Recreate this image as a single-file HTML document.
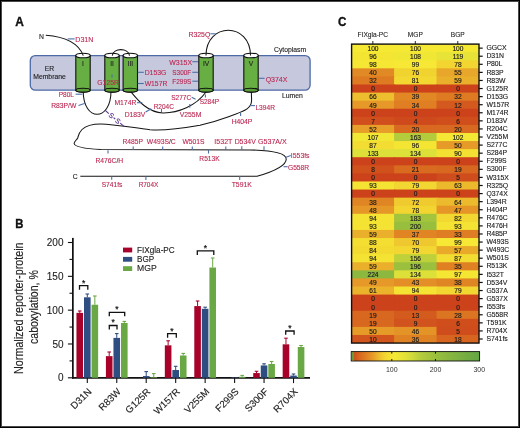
<!DOCTYPE html>
<html><head><meta charset="utf-8"><style>
html,body{margin:0;padding:0;background:#fff;}
body{width:520px;height:428px;overflow:hidden;position:relative;}
svg{position:absolute;left:0;top:0;font-family:"Liberation Sans", sans-serif;will-change:transform;}

</style></head><body>
<svg width="520" height="428" viewBox="0 0 520 428">
<rect width="520" height="428" fill="#fff"/>
<g id="A">
<text x="15.3" y="26.2" font-size="12.6" font-weight="bold" fill="#111" stroke="#111" stroke-width="0.35" textLength="8.6" lengthAdjust="spacingAndGlyphs">A</text>
<rect x="30.3" y="55.6" width="279.8" height="34.6" rx="5" ry="5" fill="#c6c8dd" stroke="#4d6aa6" stroke-width="1.3"/>
<text x="49.5" y="71" font-size="6.8" fill="#222" stroke="#222" stroke-width="0.12" text-anchor="middle">ER</text>
<text x="49.5" y="79" font-size="6.8" fill="#222" stroke="#222" stroke-width="0.12" text-anchor="middle">Membrane</text>
<text x="274" y="52.3" font-size="6.8" fill="#222" stroke="#222" stroke-width="0.12">Cytoplasm</text>
<text x="282" y="97.5" font-size="6.8" fill="#222" stroke="#222" stroke-width="0.12">Lumen</text>
<text x="38.9" y="38.9" font-size="6.8" fill="#222" stroke="#222" stroke-width="0.12">N</text>
<path d="M83.2,91 C83.2,122 111,122 111,91" fill="none" stroke="#151515" stroke-width="1.05"/>
<path d="M130.3,91 C137,99 147,112.6 163,112.9 C178,113.1 196,106 206,92" fill="none" stroke="#151515" stroke-width="1.05"/>
<path d="M251.3,91 L251.6,100 C251.6,110 242,111.5 229.3,116.5 C219,120.3 210,123 200,125.3 C180,128.8 165,131 150,129.8 C135,128.2 115,124 100.8,123.9 C94,123.9 86,125.5 82,129.5 C79.2,132.3 78.6,135 77.8,137.7 C77,139.8 74,141.5 74.1,143.5 C74.6,146.5 84,148.6 100.8,149.6 L250,149.9 C274,150.5 286,153 286.2,159 C286.4,165 275,171 257,176.3 L80.3,176.3" fill="none" stroke="#151515" stroke-width="1.05"/>
<text x="72.8" y="179.2" font-size="6.8" fill="#222" stroke="#222" stroke-width="0.12">C</text>
<path d="M75.8,55.5 L75.8,90.2 A7.2,1.9 0 0 0 90.2,90.2 L90.2,55.5 Z" fill="#67ae43" stroke="#111" stroke-width="1.1"/>
<ellipse cx="83" cy="90.2" rx="7.2" ry="1.9" fill="#5a9f38" stroke="#111" stroke-width="1.1"/>
<ellipse cx="83" cy="55.5" rx="7.2" ry="2.3" fill="#fff" stroke="#111" stroke-width="1.1"/>
<text x="83" y="65.8" font-size="6.6" fill="#222" stroke="#222" stroke-width="0.12" text-anchor="middle">I</text>
<path d="M104.8,55.5 L104.8,90.2 A7.2,1.9 0 0 0 119.2,90.2 L119.2,55.5 Z" fill="#67ae43" stroke="#111" stroke-width="1.1"/>
<ellipse cx="112" cy="90.2" rx="7.2" ry="1.9" fill="#5a9f38" stroke="#111" stroke-width="1.1"/>
<ellipse cx="112" cy="55.5" rx="7.2" ry="2.3" fill="#fff" stroke="#111" stroke-width="1.1"/>
<text x="112" y="65.8" font-size="6.6" fill="#222" stroke="#222" stroke-width="0.12" text-anchor="middle">II</text>
<path d="M123.10000000000001,55.5 L123.10000000000001,90.2 A7.2,1.9 0 0 0 137.5,90.2 L137.5,55.5 Z" fill="#67ae43" stroke="#111" stroke-width="1.1"/>
<ellipse cx="130.3" cy="90.2" rx="7.2" ry="1.9" fill="#5a9f38" stroke="#111" stroke-width="1.1"/>
<ellipse cx="130.3" cy="55.5" rx="7.2" ry="2.3" fill="#fff" stroke="#111" stroke-width="1.1"/>
<text x="130.3" y="65.8" font-size="6.6" fill="#222" stroke="#222" stroke-width="0.12" text-anchor="middle">III</text>
<path d="M198.8,55.5 L198.8,90.2 A7.2,1.9 0 0 0 213.20000000000002,90.2 L213.20000000000002,55.5 Z" fill="#67ae43" stroke="#111" stroke-width="1.1"/>
<ellipse cx="206" cy="90.2" rx="7.2" ry="1.9" fill="#5a9f38" stroke="#111" stroke-width="1.1"/>
<ellipse cx="206" cy="55.5" rx="7.2" ry="2.3" fill="#fff" stroke="#111" stroke-width="1.1"/>
<text x="206" y="65.8" font-size="6.6" fill="#222" stroke="#222" stroke-width="0.12" text-anchor="middle">IV</text>
<path d="M243.8,55.5 L243.8,90.2 A7.2,1.9 0 0 0 258.2,90.2 L258.2,55.5 Z" fill="#67ae43" stroke="#111" stroke-width="1.1"/>
<ellipse cx="251" cy="90.2" rx="7.2" ry="1.9" fill="#5a9f38" stroke="#111" stroke-width="1.1"/>
<ellipse cx="251" cy="55.5" rx="7.2" ry="2.3" fill="#fff" stroke="#111" stroke-width="1.1"/>
<text x="251" y="65.8" font-size="6.6" fill="#222" stroke="#222" stroke-width="0.12" text-anchor="middle">V</text>
<path d="M45.8,35.3 C62,36.5 78,42 83.3,55.6" fill="none" stroke="#151515" stroke-width="1.05"/>
<path d="M112.3,55.6 C113,47.6 128.6,47.6 129.5,55.6" fill="none" stroke="#151515" stroke-width="1.05"/>
<path d="M206,55.6 C206,21.7 250.5,21.7 250.5,55.6" fill="none" stroke="#151515" stroke-width="1.05"/>
<line x1="105.3" y1="110.4" x2="108.8" y2="113.6" stroke="#5b3590" stroke-width="1.1"/>
<line x1="113.6" y1="117.6" x2="115.2" y2="119" stroke="#5b3590" stroke-width="1.1"/>
<line x1="120.2" y1="123.2" x2="124.3" y2="126.6" stroke="#5b3590" stroke-width="1.1"/>
<text x="111.2" y="118" font-size="7" fill="#5b3590" stroke="#5b3590" stroke-width="0.15" text-anchor="middle" transform="rotate(38 111.2 115.7)">S</text>
<text x="117.7" y="123.4" font-size="7" fill="#5b3590" stroke="#5b3590" stroke-width="0.15" text-anchor="middle" transform="rotate(38 117.7 121.1)">S</text>
<line x1="67.7" y1="38.9" x2="74.6" y2="38.9" stroke="#4d6fa8" stroke-width="1.1"/>
<text x="75.35" y="41.8" font-size="6.9" fill="#bb2651" stroke="#bb2651" stroke-width="0.1" textLength="18.00" lengthAdjust="spacingAndGlyphs">D31N</text>
<line x1="75.6" y1="94.2" x2="82.3" y2="94.2" stroke="#4d6fa8" stroke-width="1.1"/>
<text x="58.65" y="97" font-size="6.9" fill="#bb2651" stroke="#bb2651" stroke-width="0.1" textLength="15.30" lengthAdjust="spacingAndGlyphs">P80L</text>
<line x1="78.5" y1="105.4" x2="85.2" y2="103.3" stroke="#4d6fa8" stroke-width="1.1"/>
<text x="51.15" y="108" font-size="6.9" fill="#bb2651" stroke="#bb2651" stroke-width="0.1" textLength="25.20" lengthAdjust="spacingAndGlyphs">R83P/W</text>
<line x1="112" y1="74.6" x2="112" y2="77.7" stroke="#4d6fa8" stroke-width="1.1"/>
<text x="97.35" y="85" font-size="6.9" fill="#bb2651" stroke="#bb2651" stroke-width="0.1" textLength="21.50" lengthAdjust="spacingAndGlyphs">G125R</text>
<line x1="137.7" y1="72.3" x2="143.8" y2="72.3" stroke="#4d6fa8" stroke-width="1.1"/>
<text x="144.65" y="75" font-size="6.9" fill="#bb2651" stroke="#bb2651" stroke-width="0.1" textLength="21.70" lengthAdjust="spacingAndGlyphs">D153G</text>
<line x1="137.7" y1="83.5" x2="143.8" y2="83.5" stroke="#4d6fa8" stroke-width="1.1"/>
<text x="144.65" y="86" font-size="6.9" fill="#bb2651" stroke="#bb2651" stroke-width="0.1" textLength="22.70" lengthAdjust="spacingAndGlyphs">W157R</text>
<line x1="137" y1="102.7" x2="142.3" y2="102.7" stroke="#4d6fa8" stroke-width="1.1"/>
<text x="114.45" y="105.2" font-size="6.9" fill="#bb2651" stroke="#bb2651" stroke-width="0.1" textLength="21.90" lengthAdjust="spacingAndGlyphs">M174R</text>
<line x1="145.6" y1="112" x2="151.3" y2="108.7" stroke="#4d6fa8" stroke-width="1.1"/>
<text x="124.65" y="116.7" font-size="6.9" fill="#bb2651" stroke="#bb2651" stroke-width="0.1" textLength="20.70" lengthAdjust="spacingAndGlyphs">D183V</text>
<line x1="161.5" y1="109" x2="161.5" y2="112" stroke="#4d6fa8" stroke-width="1.1"/>
<text x="153.65" y="108.5" font-size="6.9" fill="#bb2651" stroke="#bb2651" stroke-width="0.1" textLength="20.20" lengthAdjust="spacingAndGlyphs">R204C</text>
<line x1="191.7" y1="97.3" x2="195.6" y2="99.2" stroke="#4d6fa8" stroke-width="1.1"/>
<text x="171.15" y="100.4" font-size="6.9" fill="#bb2651" stroke="#bb2651" stroke-width="0.1" textLength="20.00" lengthAdjust="spacingAndGlyphs">S277C</text>
<line x1="189.8" y1="104" x2="189.8" y2="107.7" stroke="#4d6fa8" stroke-width="1.1"/>
<text x="179.65" y="116.7" font-size="6.9" fill="#bb2651" stroke="#bb2651" stroke-width="0.1" textLength="21.70" lengthAdjust="spacingAndGlyphs">V255M</text>
<line x1="205.4" y1="94.6" x2="205.4" y2="97.5" stroke="#4d6fa8" stroke-width="1.1"/>
<text x="199.65" y="104.2" font-size="6.9" fill="#bb2651" stroke="#bb2651" stroke-width="0.1" textLength="19.50" lengthAdjust="spacingAndGlyphs">S284P</text>
<line x1="192.3" y1="61.7" x2="198" y2="61.7" stroke="#4d6fa8" stroke-width="1.1"/>
<text x="169.25" y="64.6" font-size="6.9" fill="#bb2651" stroke="#bb2651" stroke-width="0.1" textLength="22.80" lengthAdjust="spacingAndGlyphs">W315X</text>
<line x1="192.3" y1="72.3" x2="198" y2="72.3" stroke="#4d6fa8" stroke-width="1.1"/>
<text x="172.35" y="75.4" font-size="6.9" fill="#bb2651" stroke="#bb2651" stroke-width="0.1" textLength="18.80" lengthAdjust="spacingAndGlyphs">S300F</text>
<line x1="192.3" y1="81.2" x2="198" y2="81.2" stroke="#4d6fa8" stroke-width="1.1"/>
<text x="172.35" y="83.8" font-size="6.9" fill="#bb2651" stroke="#bb2651" stroke-width="0.1" textLength="19.00" lengthAdjust="spacingAndGlyphs">F299S</text>
<line x1="210.4" y1="33.8" x2="215.8" y2="33.8" stroke="#4d6fa8" stroke-width="1.1"/>
<text x="188.45" y="37.3" font-size="6.9" fill="#bb2651" stroke="#bb2651" stroke-width="0.1" textLength="21.90" lengthAdjust="spacingAndGlyphs">R325Q</text>
<line x1="259" y1="78.3" x2="264.6" y2="78.3" stroke="#4d6fa8" stroke-width="1.1"/>
<text x="265.65" y="81.5" font-size="6.9" fill="#bb2651" stroke="#bb2651" stroke-width="0.1" textLength="21.70" lengthAdjust="spacingAndGlyphs">Q374X</text>
<line x1="250" y1="105.6" x2="255" y2="105.6" stroke="#4d6fa8" stroke-width="1.1"/>
<text x="255.45" y="109.6" font-size="6.9" fill="#bb2651" stroke="#bb2651" stroke-width="0.1" textLength="19.50" lengthAdjust="spacingAndGlyphs">L394R</text>
<line x1="240.6" y1="112.9" x2="240.6" y2="116" stroke="#4d6fa8" stroke-width="1.1"/>
<text x="231.65" y="124.4" font-size="6.9" fill="#bb2651" stroke="#bb2651" stroke-width="0.1" textLength="20.70" lengthAdjust="spacingAndGlyphs">H404P</text>
<line x1="133.2" y1="146.5" x2="133.2" y2="150" stroke="#4d6fa8" stroke-width="1.1"/>
<text x="122.45" y="144.4" font-size="6.9" fill="#bb2651" stroke="#bb2651" stroke-width="0.1" textLength="20.50" lengthAdjust="spacingAndGlyphs">R485P</text>
<line x1="162.7" y1="146.5" x2="162.7" y2="150" stroke="#4d6fa8" stroke-width="1.1"/>
<text x="146.85" y="144.4" font-size="6.9" fill="#bb2651" stroke="#bb2651" stroke-width="0.1" textLength="28.90" lengthAdjust="spacingAndGlyphs">W493S<tspan fill="#333" stroke="#333">/</tspan>C</text>
<line x1="192.3" y1="146.5" x2="192.3" y2="150" stroke="#4d6fa8" stroke-width="1.1"/>
<text x="182.45" y="144.4" font-size="6.9" fill="#bb2651" stroke="#bb2651" stroke-width="0.1" textLength="22.20" lengthAdjust="spacingAndGlyphs">W501S</text>
<line x1="225.8" y1="146.5" x2="225.8" y2="150" stroke="#4d6fa8" stroke-width="1.1"/>
<text x="214.35" y="144.4" font-size="6.9" fill="#bb2651" stroke="#bb2651" stroke-width="0.1" textLength="18.00" lengthAdjust="spacingAndGlyphs">I532T</text>
<line x1="241.8" y1="146.3" x2="241.8" y2="150" stroke="#4d6fa8" stroke-width="1.1"/>
<text x="234.65" y="144.4" font-size="6.9" fill="#bb2651" stroke="#bb2651" stroke-width="0.1" textLength="21.10" lengthAdjust="spacingAndGlyphs">D534V</text>
<line x1="264" y1="146.3" x2="264" y2="150" stroke="#4d6fa8" stroke-width="1.1"/>
<text x="258.05" y="144.4" font-size="6.9" fill="#bb2651" stroke="#bb2651" stroke-width="0.1" textLength="28.70" lengthAdjust="spacingAndGlyphs">G537A/X</text>
<line x1="285.4" y1="157.6" x2="290.8" y2="155.5" stroke="#4d6fa8" stroke-width="1.1"/>
<text x="290.85" y="158.4" font-size="6.9" fill="#bb2651" stroke="#bb2651" stroke-width="0.1" textLength="18.70" lengthAdjust="spacingAndGlyphs">I553fs</text>
<line x1="283.5" y1="166.7" x2="287.7" y2="166.7" stroke="#4d6fa8" stroke-width="1.1"/>
<text x="287.95" y="170.2" font-size="6.9" fill="#bb2651" stroke="#bb2651" stroke-width="0.1" textLength="21.20" lengthAdjust="spacingAndGlyphs">G558R</text>
<line x1="108" y1="150.3" x2="108" y2="153.5" stroke="#4d6fa8" stroke-width="1.1"/>
<text x="95.45" y="162.5" font-size="6.9" fill="#bb2651" stroke="#bb2651" stroke-width="0.1" textLength="27.70" lengthAdjust="spacingAndGlyphs">R476C<tspan fill="#333" stroke="#333">/</tspan>H</text>
<line x1="208.5" y1="150" x2="208.5" y2="153.5" stroke="#4d6fa8" stroke-width="1.1"/>
<text x="199.35" y="160.9" font-size="6.9" fill="#bb2651" stroke="#bb2651" stroke-width="0.1" textLength="20.30" lengthAdjust="spacingAndGlyphs">R513K</text>
<line x1="111.7" y1="176.5" x2="111.7" y2="179.7" stroke="#4d6fa8" stroke-width="1.1"/>
<text x="101.65" y="187" font-size="6.9" fill="#bb2651" stroke="#bb2651" stroke-width="0.1" textLength="20.70" lengthAdjust="spacingAndGlyphs">S741fs</text>
<line x1="145.9" y1="176.6" x2="145.9" y2="180" stroke="#4d6fa8" stroke-width="1.1"/>
<text x="138.65" y="187" font-size="6.9" fill="#bb2651" stroke="#bb2651" stroke-width="0.1" textLength="19.70" lengthAdjust="spacingAndGlyphs">R704X</text>
<line x1="239.7" y1="176.3" x2="239.7" y2="180" stroke="#4d6fa8" stroke-width="1.1"/>
<text x="231.65" y="187" font-size="6.9" fill="#bb2651" stroke="#bb2651" stroke-width="0.1" textLength="20.20" lengthAdjust="spacingAndGlyphs">T591K</text>
</g>
<g id="B">
<text x="15.2" y="227.9" font-size="12.6" font-weight="bold" fill="#111" stroke="#111" stroke-width="0.35" textLength="8.2" lengthAdjust="spacingAndGlyphs">B</text>
<line x1="72.85" y1="237.9" x2="72.85" y2="378.6" stroke="#111" stroke-width="1.75"/>
<line x1="72" y1="377.8" x2="310" y2="377.8" stroke="#111" stroke-width="1.75"/>
<line x1="67.9" y1="377.80" x2="72.7" y2="377.80" stroke="#111" stroke-width="1.1"/>
<text x="63.5" y="381.40" font-size="10" fill="#222" stroke="#222" stroke-width="0.1" text-anchor="end">0</text>
<line x1="69.5" y1="360.89" x2="72.7" y2="360.89" stroke="#111" stroke-width="1.1"/>
<line x1="67.9" y1="343.98" x2="72.7" y2="343.98" stroke="#111" stroke-width="1.1"/>
<text x="63.5" y="347.58" font-size="10" fill="#222" stroke="#222" stroke-width="0.1" text-anchor="end">50</text>
<line x1="69.5" y1="327.06" x2="72.7" y2="327.06" stroke="#111" stroke-width="1.1"/>
<line x1="67.9" y1="310.15" x2="72.7" y2="310.15" stroke="#111" stroke-width="1.1"/>
<text x="63.5" y="313.75" font-size="10" fill="#222" stroke="#222" stroke-width="0.1" text-anchor="end">100</text>
<line x1="69.5" y1="293.24" x2="72.7" y2="293.24" stroke="#111" stroke-width="1.1"/>
<line x1="67.9" y1="276.33" x2="72.7" y2="276.33" stroke="#111" stroke-width="1.1"/>
<text x="63.5" y="279.93" font-size="10" fill="#222" stroke="#222" stroke-width="0.1" text-anchor="end">150</text>
<line x1="69.5" y1="259.41" x2="72.7" y2="259.41" stroke="#111" stroke-width="1.1"/>
<line x1="67.9" y1="242.50" x2="72.7" y2="242.50" stroke="#111" stroke-width="1.1"/>
<text x="63.5" y="246.10" font-size="10" fill="#222" stroke="#222" stroke-width="0.1" text-anchor="end">200</text>
<text transform="translate(22.6,308.2) rotate(-90)" font-size="12.6" fill="#222" stroke="#222" stroke-width="0.15" text-anchor="middle" textLength="131.5" lengthAdjust="spacingAndGlyphs">Normalized reporter-protein</text>
<text transform="translate(38.4,307.1) rotate(-90)" font-size="12.6" fill="#222" stroke="#222" stroke-width="0.15" text-anchor="middle" textLength="73.8" lengthAdjust="spacingAndGlyphs">caboxylation, %</text>
<rect x="123" y="247.6" width="9.2" height="4.8" fill="#a8022b"/>
<text x="137.1" y="253.0" font-size="8.6" fill="#222" stroke="#222" stroke-width="0.12" textLength="37.6" lengthAdjust="spacingAndGlyphs">FIXgla-PC</text>
<rect x="123" y="256.9" width="9.2" height="4.8" fill="#2e4d80"/>
<text x="137.1" y="262.0" font-size="8.6" fill="#222" stroke="#222" stroke-width="0.12" textLength="17.2" lengthAdjust="spacingAndGlyphs">BGP</text>
<rect x="123" y="266.2" width="9.2" height="4.8" fill="#6aa846"/>
<text x="137.1" y="271.4" font-size="8.6" fill="#222" stroke="#222" stroke-width="0.12" textLength="19.6" lengthAdjust="spacingAndGlyphs">MGP</text>
<rect x="76.45" y="312.86" width="6.6" height="64.94" fill="#a8022b"/>
<line x1="79.75" y1="311.00" x2="79.75" y2="312.86" stroke="#a8022b" stroke-width="1"/>
<line x1="77.95" y1="311.00" x2="81.55" y2="311.00" stroke="#a8022b" stroke-width="1.1"/>
<rect x="84.00" y="297.30" width="6.6" height="80.50" fill="#2e4d80"/>
<line x1="87.30" y1="294.00" x2="87.30" y2="297.30" stroke="#2e4d80" stroke-width="1"/>
<line x1="85.50" y1="294.00" x2="89.10" y2="294.00" stroke="#2e4d80" stroke-width="1.1"/>
<rect x="91.55" y="304.74" width="6.6" height="73.06" fill="#6aa846"/>
<line x1="94.85" y1="296.00" x2="94.85" y2="304.74" stroke="#6aa846" stroke-width="1"/>
<line x1="93.05" y1="296.00" x2="96.65" y2="296.00" stroke="#6aa846" stroke-width="1.1"/>
<line x1="87.30" y1="377.8" x2="87.30" y2="383.1" stroke="#111" stroke-width="1.1"/>
<text transform="translate(92.10,392.20) rotate(-45)" font-size="9.7" fill="#222" stroke="#222" stroke-width="0.12" text-anchor="end">D31N</text>
<rect x="105.91" y="356.15" width="6.6" height="21.65" fill="#a8022b"/>
<line x1="109.21" y1="352.00" x2="109.21" y2="356.15" stroke="#a8022b" stroke-width="1"/>
<line x1="107.41" y1="352.00" x2="111.01" y2="352.00" stroke="#a8022b" stroke-width="1.1"/>
<rect x="113.46" y="337.89" width="6.6" height="39.91" fill="#2e4d80"/>
<line x1="116.76" y1="333.60" x2="116.76" y2="337.89" stroke="#2e4d80" stroke-width="1"/>
<line x1="114.96" y1="333.60" x2="118.56" y2="333.60" stroke="#2e4d80" stroke-width="1.1"/>
<rect x="121.01" y="323.00" width="6.6" height="54.80" fill="#6aa846"/>
<line x1="124.31" y1="321.40" x2="124.31" y2="323.00" stroke="#6aa846" stroke-width="1"/>
<line x1="122.51" y1="321.40" x2="126.11" y2="321.40" stroke="#6aa846" stroke-width="1.1"/>
<line x1="116.76" y1="377.8" x2="116.76" y2="383.1" stroke="#111" stroke-width="1.1"/>
<text transform="translate(121.56,392.20) rotate(-45)" font-size="9.7" fill="#222" stroke="#222" stroke-width="0.12" text-anchor="end">R83W</text>
<rect x="142.92" y="376.04" width="6.6" height="1.76" fill="#2e4d80"/>
<line x1="146.22" y1="371.60" x2="146.22" y2="376.04" stroke="#2e4d80" stroke-width="1"/>
<line x1="144.42" y1="371.60" x2="148.02" y2="371.60" stroke="#2e4d80" stroke-width="1.1"/>
<rect x="150.47" y="377.12" width="6.6" height="0.68" fill="#6aa846"/>
<line x1="153.77" y1="373.60" x2="153.77" y2="377.12" stroke="#6aa846" stroke-width="1"/>
<line x1="151.97" y1="373.60" x2="155.57" y2="373.60" stroke="#6aa846" stroke-width="1.1"/>
<line x1="146.22" y1="377.8" x2="146.22" y2="383.1" stroke="#111" stroke-width="1.1"/>
<text transform="translate(151.02,392.20) rotate(-45)" font-size="9.7" fill="#222" stroke="#222" stroke-width="0.12" text-anchor="end">G125R</text>
<rect x="164.83" y="345.33" width="6.6" height="32.47" fill="#a8022b"/>
<line x1="168.13" y1="340.80" x2="168.13" y2="345.33" stroke="#a8022b" stroke-width="1"/>
<line x1="166.33" y1="340.80" x2="169.93" y2="340.80" stroke="#a8022b" stroke-width="1.1"/>
<rect x="172.38" y="370.02" width="6.6" height="7.78" fill="#2e4d80"/>
<line x1="175.68" y1="366.30" x2="175.68" y2="370.02" stroke="#2e4d80" stroke-width="1"/>
<line x1="173.88" y1="366.30" x2="177.48" y2="366.30" stroke="#2e4d80" stroke-width="1.1"/>
<rect x="179.93" y="355.48" width="6.6" height="22.32" fill="#6aa846"/>
<line x1="183.23" y1="353.40" x2="183.23" y2="355.48" stroke="#6aa846" stroke-width="1"/>
<line x1="181.43" y1="353.40" x2="185.03" y2="353.40" stroke="#6aa846" stroke-width="1.1"/>
<line x1="175.68" y1="377.8" x2="175.68" y2="383.1" stroke="#111" stroke-width="1.1"/>
<text transform="translate(180.48,392.20) rotate(-45)" font-size="9.7" fill="#222" stroke="#222" stroke-width="0.12" text-anchor="end">W157R</text>
<rect x="194.29" y="306.09" width="6.6" height="71.71" fill="#a8022b"/>
<line x1="197.59" y1="301.00" x2="197.59" y2="306.09" stroke="#a8022b" stroke-width="1"/>
<line x1="195.79" y1="301.00" x2="199.39" y2="301.00" stroke="#a8022b" stroke-width="1.1"/>
<rect x="201.84" y="308.80" width="6.6" height="69.00" fill="#2e4d80"/>
<line x1="205.14" y1="307.20" x2="205.14" y2="308.80" stroke="#2e4d80" stroke-width="1"/>
<line x1="203.34" y1="307.20" x2="206.94" y2="307.20" stroke="#2e4d80" stroke-width="1.1"/>
<rect x="209.39" y="267.53" width="6.6" height="110.27" fill="#6aa846"/>
<line x1="212.69" y1="258.00" x2="212.69" y2="267.53" stroke="#6aa846" stroke-width="1"/>
<line x1="210.89" y1="258.00" x2="214.49" y2="258.00" stroke="#6aa846" stroke-width="1.1"/>
<line x1="205.14" y1="377.8" x2="205.14" y2="383.1" stroke="#111" stroke-width="1.1"/>
<text transform="translate(209.94,392.20) rotate(-45)" font-size="9.7" fill="#222" stroke="#222" stroke-width="0.12" text-anchor="end">V255M</text>
<rect x="231.30" y="377.12" width="6.6" height="0.68" fill="#2e4d80"/>
<rect x="238.85" y="376.79" width="6.6" height="1.01" fill="#6aa846"/>
<line x1="242.15" y1="375.40" x2="242.15" y2="376.79" stroke="#6aa846" stroke-width="1"/>
<line x1="240.35" y1="375.40" x2="243.95" y2="375.40" stroke="#6aa846" stroke-width="1.1"/>
<line x1="234.60" y1="377.8" x2="234.60" y2="383.1" stroke="#111" stroke-width="1.1"/>
<text transform="translate(239.40,392.20) rotate(-45)" font-size="9.7" fill="#222" stroke="#222" stroke-width="0.12" text-anchor="end">F299S</text>
<rect x="253.21" y="373.06" width="6.6" height="4.74" fill="#a8022b"/>
<line x1="256.51" y1="371.30" x2="256.51" y2="373.06" stroke="#a8022b" stroke-width="1"/>
<line x1="254.71" y1="371.30" x2="258.31" y2="371.30" stroke="#a8022b" stroke-width="1.1"/>
<rect x="260.76" y="365.42" width="6.6" height="12.38" fill="#2e4d80"/>
<line x1="264.06" y1="363.80" x2="264.06" y2="365.42" stroke="#2e4d80" stroke-width="1"/>
<line x1="262.26" y1="363.80" x2="265.86" y2="363.80" stroke="#2e4d80" stroke-width="1.1"/>
<rect x="268.31" y="364.00" width="6.6" height="13.80" fill="#6aa846"/>
<line x1="271.61" y1="361.50" x2="271.61" y2="364.00" stroke="#6aa846" stroke-width="1"/>
<line x1="269.81" y1="361.50" x2="273.41" y2="361.50" stroke="#6aa846" stroke-width="1.1"/>
<line x1="264.06" y1="377.8" x2="264.06" y2="383.1" stroke="#111" stroke-width="1.1"/>
<text transform="translate(268.86,392.20) rotate(-45)" font-size="9.7" fill="#222" stroke="#222" stroke-width="0.12" text-anchor="end">S300F</text>
<rect x="282.67" y="344.31" width="6.6" height="33.49" fill="#a8022b"/>
<line x1="285.97" y1="338.20" x2="285.97" y2="344.31" stroke="#a8022b" stroke-width="1"/>
<line x1="284.17" y1="338.20" x2="287.77" y2="338.20" stroke="#a8022b" stroke-width="1.1"/>
<rect x="290.22" y="375.57" width="6.6" height="2.23" fill="#2e4d80"/>
<line x1="293.52" y1="374.00" x2="293.52" y2="375.57" stroke="#2e4d80" stroke-width="1"/>
<line x1="291.72" y1="374.00" x2="295.32" y2="374.00" stroke="#2e4d80" stroke-width="1.1"/>
<rect x="297.77" y="347.02" width="6.6" height="30.78" fill="#6aa846"/>
<line x1="301.07" y1="345.50" x2="301.07" y2="347.02" stroke="#6aa846" stroke-width="1"/>
<line x1="299.27" y1="345.50" x2="302.87" y2="345.50" stroke="#6aa846" stroke-width="1.1"/>
<line x1="293.52" y1="377.8" x2="293.52" y2="383.1" stroke="#111" stroke-width="1.1"/>
<text transform="translate(298.32,392.20) rotate(-45)" font-size="9.7" fill="#222" stroke="#222" stroke-width="0.12" text-anchor="end">R704X</text>
<path d="M79.5,289.8 L79.5,285.6 L87.8,285.6 L87.8,289.8" fill="none" stroke="#111" stroke-width="1.3"/>
<text x="83.6" y="285.50" font-size="8.5" fill="#111" stroke="#111" stroke-width="0.2" text-anchor="middle">*</text>
<path d="M109.3,329.6 L109.3,325.5 L117,325.5 L117,329.6" fill="none" stroke="#111" stroke-width="1.3"/>
<text x="113.2" y="325.40" font-size="8.5" fill="#111" stroke="#111" stroke-width="0.2" text-anchor="middle">*</text>
<path d="M109.3,316.2 L109.3,312.3 L124.7,312.3 L124.7,316.2" fill="none" stroke="#111" stroke-width="1.3"/>
<text x="117" y="312.20" font-size="8.5" fill="#111" stroke="#111" stroke-width="0.2" text-anchor="middle">*</text>
<path d="M167.6,337.8 L167.6,333.6 L176.3,333.6 L176.3,337.8" fill="none" stroke="#111" stroke-width="1.3"/>
<text x="172" y="333.50" font-size="8.5" fill="#111" stroke="#111" stroke-width="0.2" text-anchor="middle">*</text>
<path d="M197.3,255 L197.3,250.8 L213.8,250.8 L213.8,255" fill="none" stroke="#111" stroke-width="1.3"/>
<text x="205.5" y="250.70" font-size="8.5" fill="#111" stroke="#111" stroke-width="0.2" text-anchor="middle">*</text>
<path d="M285.7,334.7 L285.7,331 L294.1,331 L294.1,334.7" fill="none" stroke="#111" stroke-width="1.3"/>
<text x="290" y="330.90" font-size="8.5" fill="#111" stroke="#111" stroke-width="0.2" text-anchor="middle">*</text>
</g>
<g id="C">
<text x="337.9" y="26.3" font-size="13" font-weight="bold" fill="#111" stroke="#111" stroke-width="0.35" textLength="8.4" lengthAdjust="spacingAndGlyphs">C</text>
<text x="372.83" y="37" font-size="6.6" fill="#222" stroke="#222" stroke-width="0.1" text-anchor="middle">FIXgla-PC</text>
<line x1="372.83" y1="41" x2="372.83" y2="44.1" stroke="#111" stroke-width="0.9"/>
<text x="415.30" y="37" font-size="6.6" fill="#222" stroke="#222" stroke-width="0.1" text-anchor="middle">MGP</text>
<line x1="415.30" y1="41" x2="415.30" y2="44.1" stroke="#111" stroke-width="0.9"/>
<text x="457.77" y="37" font-size="6.6" fill="#222" stroke="#222" stroke-width="0.1" text-anchor="middle">BGP</text>
<line x1="457.77" y1="41" x2="457.77" y2="44.1" stroke="#111" stroke-width="0.9"/>
<rect x="351.60" y="44.10" width="43.47" height="9.08" fill="#f6e934"/>
<rect x="394.07" y="44.10" width="43.47" height="9.08" fill="#f6e934"/>
<rect x="436.53" y="44.10" width="42.47" height="9.08" fill="#f6e934"/>
<rect x="351.60" y="52.18" width="43.47" height="9.08" fill="#f5e533"/>
<rect x="394.07" y="52.18" width="43.47" height="9.08" fill="#f0e735"/>
<rect x="436.53" y="52.18" width="42.47" height="9.08" fill="#e7e437"/>
<rect x="351.60" y="60.26" width="43.47" height="9.08" fill="#f6e734"/>
<rect x="394.07" y="60.26" width="43.47" height="9.08" fill="#f6e834"/>
<rect x="436.53" y="60.26" width="42.47" height="9.08" fill="#f2d530"/>
<rect x="351.60" y="68.34" width="43.47" height="9.08" fill="#e18925"/>
<rect x="394.07" y="68.34" width="43.47" height="9.08" fill="#f1d330"/>
<rect x="436.53" y="68.34" width="42.47" height="9.08" fill="#e8a62a"/>
<rect x="351.60" y="76.42" width="43.47" height="9.08" fill="#de7b22"/>
<rect x="394.07" y="76.42" width="43.47" height="9.08" fill="#f2d831"/>
<rect x="436.53" y="76.42" width="42.47" height="9.08" fill="#eaaf2b"/>
<rect x="351.60" y="84.50" width="43.47" height="9.08" fill="#cc421b"/>
<rect x="394.07" y="84.50" width="43.47" height="9.08" fill="#cc421b"/>
<rect x="436.53" y="84.50" width="42.47" height="9.08" fill="#cc421b"/>
<rect x="351.60" y="92.58" width="43.47" height="9.08" fill="#edbe2d"/>
<rect x="394.07" y="92.58" width="43.47" height="9.08" fill="#e18724"/>
<rect x="436.53" y="92.58" width="42.47" height="9.08" fill="#de7b22"/>
<rect x="351.60" y="100.66" width="43.47" height="9.08" fill="#e69928"/>
<rect x="394.07" y="100.66" width="43.47" height="9.08" fill="#df7e23"/>
<rect x="436.53" y="100.66" width="42.47" height="9.08" fill="#d3591e"/>
<rect x="351.60" y="108.74" width="43.47" height="9.08" fill="#cc421b"/>
<rect x="394.07" y="108.74" width="43.47" height="9.08" fill="#cc421b"/>
<rect x="436.53" y="108.74" width="42.47" height="9.08" fill="#cc421b"/>
<rect x="351.60" y="116.82" width="43.47" height="9.08" fill="#d04f1c"/>
<rect x="394.07" y="116.82" width="43.47" height="9.08" fill="#ce4a1c"/>
<rect x="436.53" y="116.82" width="42.47" height="9.08" fill="#d04d1c"/>
<rect x="351.60" y="124.90" width="43.47" height="9.08" fill="#e79f29"/>
<rect x="394.07" y="124.90" width="43.47" height="9.08" fill="#d96920"/>
<rect x="436.53" y="124.90" width="42.47" height="9.08" fill="#d96920"/>
<rect x="351.60" y="132.98" width="43.47" height="9.08" fill="#f1e735"/>
<rect x="394.07" y="132.98" width="43.47" height="9.08" fill="#b4cc3c"/>
<rect x="436.53" y="132.98" width="42.47" height="9.08" fill="#f4e834"/>
<rect x="351.60" y="141.06" width="43.47" height="9.08" fill="#f3dd32"/>
<rect x="394.07" y="141.06" width="43.47" height="9.08" fill="#f5e533"/>
<rect x="436.53" y="141.06" width="42.47" height="9.08" fill="#e69b28"/>
<rect x="351.60" y="149.14" width="43.47" height="9.08" fill="#dde039"/>
<rect x="394.07" y="149.14" width="43.47" height="9.08" fill="#dce039"/>
<rect x="436.53" y="149.14" width="42.47" height="9.08" fill="#f4e032"/>
<rect x="351.60" y="157.22" width="43.47" height="9.08" fill="#cc421b"/>
<rect x="394.07" y="157.22" width="43.47" height="9.08" fill="#cc421b"/>
<rect x="436.53" y="157.22" width="42.47" height="9.08" fill="#cc421b"/>
<rect x="351.60" y="165.30" width="43.47" height="9.08" fill="#d1511d"/>
<rect x="394.07" y="165.30" width="43.47" height="9.08" fill="#d96b20"/>
<rect x="436.53" y="165.30" width="42.47" height="9.08" fill="#d86720"/>
<rect x="351.60" y="173.38" width="43.47" height="9.08" fill="#cc421b"/>
<rect x="394.07" y="173.38" width="43.47" height="9.08" fill="#cc421b"/>
<rect x="436.53" y="173.38" width="42.47" height="9.08" fill="#cf4c1c"/>
<rect x="351.60" y="181.46" width="43.47" height="9.08" fill="#f5e333"/>
<rect x="394.07" y="181.46" width="43.47" height="9.08" fill="#f2d631"/>
<rect x="436.53" y="181.46" width="42.47" height="9.08" fill="#ecb82c"/>
<rect x="351.60" y="189.54" width="43.47" height="9.08" fill="#cc421b"/>
<rect x="394.07" y="189.54" width="43.47" height="9.08" fill="#cc421b"/>
<rect x="436.53" y="189.54" width="42.47" height="9.08" fill="#cc421b"/>
<rect x="351.60" y="197.62" width="43.47" height="9.08" fill="#e08524"/>
<rect x="394.07" y="197.62" width="43.47" height="9.08" fill="#f0cb2f"/>
<rect x="436.53" y="197.62" width="42.47" height="9.08" fill="#ecba2c"/>
<rect x="351.60" y="205.70" width="43.47" height="9.08" fill="#e59727"/>
<rect x="394.07" y="205.70" width="43.47" height="9.08" fill="#f2d530"/>
<rect x="436.53" y="205.70" width="42.47" height="9.08" fill="#e59627"/>
<rect x="351.60" y="213.78" width="43.47" height="9.08" fill="#f5e333"/>
<rect x="394.07" y="213.78" width="43.47" height="9.08" fill="#a5c43d"/>
<rect x="436.53" y="213.78" width="42.47" height="9.08" fill="#f2d831"/>
<rect x="351.60" y="221.86" width="43.47" height="9.08" fill="#f5e333"/>
<rect x="394.07" y="221.86" width="43.47" height="9.08" fill="#98be3e"/>
<rect x="436.53" y="221.86" width="42.47" height="9.08" fill="#f5e333"/>
<rect x="351.60" y="229.94" width="43.47" height="9.08" fill="#eaaf2b"/>
<rect x="394.07" y="229.94" width="43.47" height="9.08" fill="#e08424"/>
<rect x="436.53" y="229.94" width="42.47" height="9.08" fill="#de7d23"/>
<rect x="351.60" y="238.02" width="43.47" height="9.08" fill="#f4de32"/>
<rect x="394.07" y="238.02" width="43.47" height="9.08" fill="#efc72e"/>
<rect x="436.53" y="238.02" width="42.47" height="9.08" fill="#f6e834"/>
<rect x="351.60" y="246.10" width="43.47" height="9.08" fill="#f3da31"/>
<rect x="394.07" y="246.10" width="43.47" height="9.08" fill="#f2d631"/>
<rect x="436.53" y="246.10" width="42.47" height="9.08" fill="#e9aa2a"/>
<rect x="351.60" y="254.18" width="43.47" height="9.08" fill="#f5e333"/>
<rect x="394.07" y="254.18" width="43.47" height="9.08" fill="#bed13b"/>
<rect x="436.53" y="254.18" width="42.47" height="9.08" fill="#f3dd32"/>
<rect x="351.60" y="262.26" width="43.47" height="9.08" fill="#eaaf2b"/>
<rect x="394.07" y="262.26" width="43.47" height="9.08" fill="#9bc03e"/>
<rect x="436.53" y="262.26" width="42.47" height="9.08" fill="#df8023"/>
<rect x="351.60" y="270.34" width="43.47" height="9.08" fill="#8cb83f"/>
<rect x="394.07" y="270.34" width="43.47" height="9.08" fill="#dce039"/>
<rect x="436.53" y="270.34" width="42.47" height="9.08" fill="#f5e634"/>
<rect x="351.60" y="278.42" width="43.47" height="9.08" fill="#e69928"/>
<rect x="394.07" y="278.42" width="43.47" height="9.08" fill="#e38e26"/>
<rect x="436.53" y="278.42" width="42.47" height="9.08" fill="#e08524"/>
<rect x="351.60" y="286.50" width="43.47" height="9.08" fill="#ebb32c"/>
<rect x="394.07" y="286.50" width="43.47" height="9.08" fill="#f5e333"/>
<rect x="436.53" y="286.50" width="42.47" height="9.08" fill="#f2d631"/>
<rect x="351.60" y="294.58" width="43.47" height="9.08" fill="#cc421b"/>
<rect x="394.07" y="294.58" width="43.47" height="9.08" fill="#cc421b"/>
<rect x="436.53" y="294.58" width="42.47" height="9.08" fill="#cc421b"/>
<rect x="351.60" y="302.66" width="43.47" height="9.08" fill="#cc421b"/>
<rect x="394.07" y="302.66" width="43.47" height="9.08" fill="#cc421b"/>
<rect x="436.53" y="302.66" width="42.47" height="9.08" fill="#cc421b"/>
<rect x="351.60" y="310.74" width="43.47" height="9.08" fill="#d86720"/>
<rect x="394.07" y="310.74" width="43.47" height="9.08" fill="#d45b1e"/>
<rect x="436.53" y="310.74" width="42.47" height="9.08" fill="#dc7522"/>
<rect x="351.60" y="318.82" width="43.47" height="9.08" fill="#d86720"/>
<rect x="394.07" y="318.82" width="43.47" height="9.08" fill="#d1531d"/>
<rect x="436.53" y="318.82" width="42.47" height="9.08" fill="#d04d1c"/>
<rect x="351.60" y="326.90" width="43.47" height="9.08" fill="#e69b28"/>
<rect x="394.07" y="326.90" width="43.47" height="9.08" fill="#e49427"/>
<rect x="436.53" y="326.90" width="42.47" height="9.08" fill="#cf4c1c"/>
<rect x="351.60" y="334.98" width="43.47" height="8.08" fill="#d2551d"/>
<rect x="394.07" y="334.98" width="43.47" height="8.08" fill="#df8223"/>
<rect x="436.53" y="334.98" width="42.47" height="8.08" fill="#d8651f"/>
<text x="373.03" y="51.00" font-size="6.6" fill="#1a1a1a" stroke="#1a1a1a" stroke-width="0.15" text-anchor="middle">100</text>
<text x="415.50" y="51.00" font-size="6.6" fill="#1a1a1a" stroke="#1a1a1a" stroke-width="0.15" text-anchor="middle">100</text>
<text x="457.97" y="51.00" font-size="6.6" fill="#1a1a1a" stroke="#1a1a1a" stroke-width="0.15" text-anchor="middle">100</text>
<line x1="479.0" y1="48.14" x2="482.7" y2="48.14" stroke="#111" stroke-width="1.2"/>
<text x="0" y="50.29" font-size="6.6" fill="#1a1a1a" stroke="#1a1a1a" stroke-width="0.12" transform="translate(486.4,0) scale(1.04,1)">GGCX</text>
<text x="373.03" y="59.08" font-size="6.6" fill="#1a1a1a" stroke="#1a1a1a" stroke-width="0.15" text-anchor="middle">96</text>
<text x="415.50" y="59.08" font-size="6.6" fill="#1a1a1a" stroke="#1a1a1a" stroke-width="0.15" text-anchor="middle">108</text>
<text x="457.97" y="59.08" font-size="6.6" fill="#1a1a1a" stroke="#1a1a1a" stroke-width="0.15" text-anchor="middle">119</text>
<line x1="479.0" y1="56.22" x2="482.7" y2="56.22" stroke="#111" stroke-width="1.2"/>
<text x="0" y="58.37" font-size="6.6" fill="#1a1a1a" stroke="#1a1a1a" stroke-width="0.12" transform="translate(486.4,0) scale(1.04,1)">D31N</text>
<text x="373.03" y="67.16" font-size="6.6" fill="#1a1a1a" stroke="#1a1a1a" stroke-width="0.15" text-anchor="middle">98</text>
<text x="415.50" y="67.16" font-size="6.6" fill="#1a1a1a" stroke="#1a1a1a" stroke-width="0.15" text-anchor="middle">99</text>
<text x="457.97" y="67.16" font-size="6.6" fill="#1a1a1a" stroke="#1a1a1a" stroke-width="0.15" text-anchor="middle">78</text>
<line x1="479.0" y1="64.30" x2="482.7" y2="64.30" stroke="#111" stroke-width="1.2"/>
<text x="0" y="66.45" font-size="6.6" fill="#1a1a1a" stroke="#1a1a1a" stroke-width="0.12" transform="translate(486.4,0) scale(1.04,1)">P80L</text>
<text x="373.03" y="75.24" font-size="6.6" fill="#1a1a1a" stroke="#1a1a1a" stroke-width="0.15" text-anchor="middle">40</text>
<text x="415.50" y="75.24" font-size="6.6" fill="#1a1a1a" stroke="#1a1a1a" stroke-width="0.15" text-anchor="middle">76</text>
<text x="457.97" y="75.24" font-size="6.6" fill="#1a1a1a" stroke="#1a1a1a" stroke-width="0.15" text-anchor="middle">55</text>
<line x1="479.0" y1="72.38" x2="482.7" y2="72.38" stroke="#111" stroke-width="1.2"/>
<text x="0" y="74.53" font-size="6.6" fill="#1a1a1a" stroke="#1a1a1a" stroke-width="0.12" transform="translate(486.4,0) scale(1.04,1)">R83P</text>
<text x="373.03" y="83.32" font-size="6.6" fill="#1a1a1a" stroke="#1a1a1a" stroke-width="0.15" text-anchor="middle">32</text>
<text x="415.50" y="83.32" font-size="6.6" fill="#1a1a1a" stroke="#1a1a1a" stroke-width="0.15" text-anchor="middle">81</text>
<text x="457.97" y="83.32" font-size="6.6" fill="#1a1a1a" stroke="#1a1a1a" stroke-width="0.15" text-anchor="middle">59</text>
<line x1="479.0" y1="80.46" x2="482.7" y2="80.46" stroke="#111" stroke-width="1.2"/>
<text x="0" y="82.61" font-size="6.6" fill="#1a1a1a" stroke="#1a1a1a" stroke-width="0.12" transform="translate(486.4,0) scale(1.04,1)">R83W</text>
<text x="373.03" y="91.40" font-size="6.6" fill="#1a1a1a" stroke="#1a1a1a" stroke-width="0.15" text-anchor="middle">0</text>
<text x="415.50" y="91.40" font-size="6.6" fill="#1a1a1a" stroke="#1a1a1a" stroke-width="0.15" text-anchor="middle">0</text>
<text x="457.97" y="91.40" font-size="6.6" fill="#1a1a1a" stroke="#1a1a1a" stroke-width="0.15" text-anchor="middle">0</text>
<line x1="479.0" y1="88.54" x2="482.7" y2="88.54" stroke="#111" stroke-width="1.2"/>
<text x="0" y="90.69" font-size="6.6" fill="#1a1a1a" stroke="#1a1a1a" stroke-width="0.12" transform="translate(486.4,0) scale(1.04,1)">G125R</text>
<text x="373.03" y="99.48" font-size="6.6" fill="#1a1a1a" stroke="#1a1a1a" stroke-width="0.15" text-anchor="middle">66</text>
<text x="415.50" y="99.48" font-size="6.6" fill="#1a1a1a" stroke="#1a1a1a" stroke-width="0.15" text-anchor="middle">39</text>
<text x="457.97" y="99.48" font-size="6.6" fill="#1a1a1a" stroke="#1a1a1a" stroke-width="0.15" text-anchor="middle">32</text>
<line x1="479.0" y1="96.62" x2="482.7" y2="96.62" stroke="#111" stroke-width="1.2"/>
<text x="0" y="98.77" font-size="6.6" fill="#1a1a1a" stroke="#1a1a1a" stroke-width="0.12" transform="translate(486.4,0) scale(1.04,1)">D153G</text>
<text x="373.03" y="107.56" font-size="6.6" fill="#1a1a1a" stroke="#1a1a1a" stroke-width="0.15" text-anchor="middle">49</text>
<text x="415.50" y="107.56" font-size="6.6" fill="#1a1a1a" stroke="#1a1a1a" stroke-width="0.15" text-anchor="middle">34</text>
<text x="457.97" y="107.56" font-size="6.6" fill="#1a1a1a" stroke="#1a1a1a" stroke-width="0.15" text-anchor="middle">12</text>
<line x1="479.0" y1="104.70" x2="482.7" y2="104.70" stroke="#111" stroke-width="1.2"/>
<text x="0" y="106.85" font-size="6.6" fill="#1a1a1a" stroke="#1a1a1a" stroke-width="0.12" transform="translate(486.4,0) scale(1.04,1)">W157R</text>
<text x="373.03" y="115.64" font-size="6.6" fill="#1a1a1a" stroke="#1a1a1a" stroke-width="0.15" text-anchor="middle">0</text>
<text x="415.50" y="115.64" font-size="6.6" fill="#1a1a1a" stroke="#1a1a1a" stroke-width="0.15" text-anchor="middle">0</text>
<text x="457.97" y="115.64" font-size="6.6" fill="#1a1a1a" stroke="#1a1a1a" stroke-width="0.15" text-anchor="middle">0</text>
<line x1="479.0" y1="112.78" x2="482.7" y2="112.78" stroke="#111" stroke-width="1.2"/>
<text x="0" y="114.93" font-size="6.6" fill="#1a1a1a" stroke="#1a1a1a" stroke-width="0.12" transform="translate(486.4,0) scale(1.04,1)">M174R</text>
<text x="373.03" y="123.72" font-size="6.6" fill="#1a1a1a" stroke="#1a1a1a" stroke-width="0.15" text-anchor="middle">7</text>
<text x="415.50" y="123.72" font-size="6.6" fill="#1a1a1a" stroke="#1a1a1a" stroke-width="0.15" text-anchor="middle">4</text>
<text x="457.97" y="123.72" font-size="6.6" fill="#1a1a1a" stroke="#1a1a1a" stroke-width="0.15" text-anchor="middle">6</text>
<line x1="479.0" y1="120.86" x2="482.7" y2="120.86" stroke="#111" stroke-width="1.2"/>
<text x="0" y="123.01" font-size="6.6" fill="#1a1a1a" stroke="#1a1a1a" stroke-width="0.12" transform="translate(486.4,0) scale(1.04,1)">D183V</text>
<text x="373.03" y="131.80" font-size="6.6" fill="#1a1a1a" stroke="#1a1a1a" stroke-width="0.15" text-anchor="middle">52</text>
<text x="415.50" y="131.80" font-size="6.6" fill="#1a1a1a" stroke="#1a1a1a" stroke-width="0.15" text-anchor="middle">20</text>
<text x="457.97" y="131.80" font-size="6.6" fill="#1a1a1a" stroke="#1a1a1a" stroke-width="0.15" text-anchor="middle">20</text>
<line x1="479.0" y1="128.94" x2="482.7" y2="128.94" stroke="#111" stroke-width="1.2"/>
<text x="0" y="131.09" font-size="6.6" fill="#1a1a1a" stroke="#1a1a1a" stroke-width="0.12" transform="translate(486.4,0) scale(1.04,1)">R204C</text>
<text x="373.03" y="139.88" font-size="6.6" fill="#1a1a1a" stroke="#1a1a1a" stroke-width="0.15" text-anchor="middle">107</text>
<text x="415.50" y="139.88" font-size="6.6" fill="#1a1a1a" stroke="#1a1a1a" stroke-width="0.15" text-anchor="middle">163</text>
<text x="457.97" y="139.88" font-size="6.6" fill="#1a1a1a" stroke="#1a1a1a" stroke-width="0.15" text-anchor="middle">102</text>
<line x1="479.0" y1="137.02" x2="482.7" y2="137.02" stroke="#111" stroke-width="1.2"/>
<text x="0" y="139.17" font-size="6.6" fill="#1a1a1a" stroke="#1a1a1a" stroke-width="0.12" transform="translate(486.4,0) scale(1.04,1)">V255M</text>
<text x="373.03" y="147.96" font-size="6.6" fill="#1a1a1a" stroke="#1a1a1a" stroke-width="0.15" text-anchor="middle">87</text>
<text x="415.50" y="147.96" font-size="6.6" fill="#1a1a1a" stroke="#1a1a1a" stroke-width="0.15" text-anchor="middle">96</text>
<text x="457.97" y="147.96" font-size="6.6" fill="#1a1a1a" stroke="#1a1a1a" stroke-width="0.15" text-anchor="middle">50</text>
<line x1="479.0" y1="145.10" x2="482.7" y2="145.10" stroke="#111" stroke-width="1.2"/>
<text x="0" y="147.25" font-size="6.6" fill="#1a1a1a" stroke="#1a1a1a" stroke-width="0.12" transform="translate(486.4,0) scale(1.04,1)">S277C</text>
<text x="373.03" y="156.04" font-size="6.6" fill="#1a1a1a" stroke="#1a1a1a" stroke-width="0.15" text-anchor="middle">133</text>
<text x="415.50" y="156.04" font-size="6.6" fill="#1a1a1a" stroke="#1a1a1a" stroke-width="0.15" text-anchor="middle">134</text>
<text x="457.97" y="156.04" font-size="6.6" fill="#1a1a1a" stroke="#1a1a1a" stroke-width="0.15" text-anchor="middle">90</text>
<line x1="479.0" y1="153.18" x2="482.7" y2="153.18" stroke="#111" stroke-width="1.2"/>
<text x="0" y="155.33" font-size="6.6" fill="#1a1a1a" stroke="#1a1a1a" stroke-width="0.12" transform="translate(486.4,0) scale(1.04,1)">S284P</text>
<text x="373.03" y="164.12" font-size="6.6" fill="#1a1a1a" stroke="#1a1a1a" stroke-width="0.15" text-anchor="middle">0</text>
<text x="415.50" y="164.12" font-size="6.6" fill="#1a1a1a" stroke="#1a1a1a" stroke-width="0.15" text-anchor="middle">0</text>
<text x="457.97" y="164.12" font-size="6.6" fill="#1a1a1a" stroke="#1a1a1a" stroke-width="0.15" text-anchor="middle">0</text>
<line x1="479.0" y1="161.26" x2="482.7" y2="161.26" stroke="#111" stroke-width="1.2"/>
<text x="0" y="163.41" font-size="6.6" fill="#1a1a1a" stroke="#1a1a1a" stroke-width="0.12" transform="translate(486.4,0) scale(1.04,1)">F299S</text>
<text x="373.03" y="172.20" font-size="6.6" fill="#1a1a1a" stroke="#1a1a1a" stroke-width="0.15" text-anchor="middle">8</text>
<text x="415.50" y="172.20" font-size="6.6" fill="#1a1a1a" stroke="#1a1a1a" stroke-width="0.15" text-anchor="middle">21</text>
<text x="457.97" y="172.20" font-size="6.6" fill="#1a1a1a" stroke="#1a1a1a" stroke-width="0.15" text-anchor="middle">19</text>
<line x1="479.0" y1="169.34" x2="482.7" y2="169.34" stroke="#111" stroke-width="1.2"/>
<text x="0" y="171.49" font-size="6.6" fill="#1a1a1a" stroke="#1a1a1a" stroke-width="0.12" transform="translate(486.4,0) scale(1.04,1)">S300F</text>
<text x="373.03" y="180.28" font-size="6.6" fill="#1a1a1a" stroke="#1a1a1a" stroke-width="0.15" text-anchor="middle">0</text>
<text x="415.50" y="180.28" font-size="6.6" fill="#1a1a1a" stroke="#1a1a1a" stroke-width="0.15" text-anchor="middle">0</text>
<text x="457.97" y="180.28" font-size="6.6" fill="#1a1a1a" stroke="#1a1a1a" stroke-width="0.15" text-anchor="middle">5</text>
<line x1="479.0" y1="177.42" x2="482.7" y2="177.42" stroke="#111" stroke-width="1.2"/>
<text x="0" y="179.57" font-size="6.6" fill="#1a1a1a" stroke="#1a1a1a" stroke-width="0.12" transform="translate(486.4,0) scale(1.04,1)">W315X</text>
<text x="373.03" y="188.36" font-size="6.6" fill="#1a1a1a" stroke="#1a1a1a" stroke-width="0.15" text-anchor="middle">93</text>
<text x="415.50" y="188.36" font-size="6.6" fill="#1a1a1a" stroke="#1a1a1a" stroke-width="0.15" text-anchor="middle">79</text>
<text x="457.97" y="188.36" font-size="6.6" fill="#1a1a1a" stroke="#1a1a1a" stroke-width="0.15" text-anchor="middle">63</text>
<line x1="479.0" y1="185.50" x2="482.7" y2="185.50" stroke="#111" stroke-width="1.2"/>
<text x="0" y="187.65" font-size="6.6" fill="#1a1a1a" stroke="#1a1a1a" stroke-width="0.12" transform="translate(486.4,0) scale(1.04,1)">R325Q</text>
<text x="373.03" y="196.44" font-size="6.6" fill="#1a1a1a" stroke="#1a1a1a" stroke-width="0.15" text-anchor="middle">0</text>
<text x="415.50" y="196.44" font-size="6.6" fill="#1a1a1a" stroke="#1a1a1a" stroke-width="0.15" text-anchor="middle">0</text>
<text x="457.97" y="196.44" font-size="6.6" fill="#1a1a1a" stroke="#1a1a1a" stroke-width="0.15" text-anchor="middle">0</text>
<line x1="479.0" y1="193.58" x2="482.7" y2="193.58" stroke="#111" stroke-width="1.2"/>
<text x="0" y="195.73" font-size="6.6" fill="#1a1a1a" stroke="#1a1a1a" stroke-width="0.12" transform="translate(486.4,0) scale(1.04,1)">Q374X</text>
<text x="373.03" y="204.52" font-size="6.6" fill="#1a1a1a" stroke="#1a1a1a" stroke-width="0.15" text-anchor="middle">38</text>
<text x="415.50" y="204.52" font-size="6.6" fill="#1a1a1a" stroke="#1a1a1a" stroke-width="0.15" text-anchor="middle">72</text>
<text x="457.97" y="204.52" font-size="6.6" fill="#1a1a1a" stroke="#1a1a1a" stroke-width="0.15" text-anchor="middle">64</text>
<line x1="479.0" y1="201.66" x2="482.7" y2="201.66" stroke="#111" stroke-width="1.2"/>
<text x="0" y="203.81" font-size="6.6" fill="#1a1a1a" stroke="#1a1a1a" stroke-width="0.12" transform="translate(486.4,0) scale(1.04,1)">L394R</text>
<text x="373.03" y="212.60" font-size="6.6" fill="#1a1a1a" stroke="#1a1a1a" stroke-width="0.15" text-anchor="middle">48</text>
<text x="415.50" y="212.60" font-size="6.6" fill="#1a1a1a" stroke="#1a1a1a" stroke-width="0.15" text-anchor="middle">78</text>
<text x="457.97" y="212.60" font-size="6.6" fill="#1a1a1a" stroke="#1a1a1a" stroke-width="0.15" text-anchor="middle">47</text>
<line x1="479.0" y1="209.74" x2="482.7" y2="209.74" stroke="#111" stroke-width="1.2"/>
<text x="0" y="211.89" font-size="6.6" fill="#1a1a1a" stroke="#1a1a1a" stroke-width="0.12" transform="translate(486.4,0) scale(1.04,1)">H404P</text>
<text x="373.03" y="220.68" font-size="6.6" fill="#1a1a1a" stroke="#1a1a1a" stroke-width="0.15" text-anchor="middle">94</text>
<text x="415.50" y="220.68" font-size="6.6" fill="#1a1a1a" stroke="#1a1a1a" stroke-width="0.15" text-anchor="middle">183</text>
<text x="457.97" y="220.68" font-size="6.6" fill="#1a1a1a" stroke="#1a1a1a" stroke-width="0.15" text-anchor="middle">82</text>
<line x1="479.0" y1="217.82" x2="482.7" y2="217.82" stroke="#111" stroke-width="1.2"/>
<text x="0" y="219.97" font-size="6.6" fill="#1a1a1a" stroke="#1a1a1a" stroke-width="0.12" transform="translate(486.4,0) scale(1.04,1)">R476C</text>
<text x="373.03" y="228.76" font-size="6.6" fill="#1a1a1a" stroke="#1a1a1a" stroke-width="0.15" text-anchor="middle">93</text>
<text x="415.50" y="228.76" font-size="6.6" fill="#1a1a1a" stroke="#1a1a1a" stroke-width="0.15" text-anchor="middle">200</text>
<text x="457.97" y="228.76" font-size="6.6" fill="#1a1a1a" stroke="#1a1a1a" stroke-width="0.15" text-anchor="middle">93</text>
<line x1="479.0" y1="225.90" x2="482.7" y2="225.90" stroke="#111" stroke-width="1.2"/>
<text x="0" y="228.05" font-size="6.6" fill="#1a1a1a" stroke="#1a1a1a" stroke-width="0.12" transform="translate(486.4,0) scale(1.04,1)">R476H</text>
<text x="373.03" y="236.84" font-size="6.6" fill="#1a1a1a" stroke="#1a1a1a" stroke-width="0.15" text-anchor="middle">59</text>
<text x="415.50" y="236.84" font-size="6.6" fill="#1a1a1a" stroke="#1a1a1a" stroke-width="0.15" text-anchor="middle">37</text>
<text x="457.97" y="236.84" font-size="6.6" fill="#1a1a1a" stroke="#1a1a1a" stroke-width="0.15" text-anchor="middle">33</text>
<line x1="479.0" y1="233.98" x2="482.7" y2="233.98" stroke="#111" stroke-width="1.2"/>
<text x="0" y="236.13" font-size="6.6" fill="#1a1a1a" stroke="#1a1a1a" stroke-width="0.12" transform="translate(486.4,0) scale(1.04,1)">R485P</text>
<text x="373.03" y="244.92" font-size="6.6" fill="#1a1a1a" stroke="#1a1a1a" stroke-width="0.15" text-anchor="middle">88</text>
<text x="415.50" y="244.92" font-size="6.6" fill="#1a1a1a" stroke="#1a1a1a" stroke-width="0.15" text-anchor="middle">70</text>
<text x="457.97" y="244.92" font-size="6.6" fill="#1a1a1a" stroke="#1a1a1a" stroke-width="0.15" text-anchor="middle">99</text>
<line x1="479.0" y1="242.06" x2="482.7" y2="242.06" stroke="#111" stroke-width="1.2"/>
<text x="0" y="244.21" font-size="6.6" fill="#1a1a1a" stroke="#1a1a1a" stroke-width="0.12" transform="translate(486.4,0) scale(1.04,1)">W493S</text>
<text x="373.03" y="253.00" font-size="6.6" fill="#1a1a1a" stroke="#1a1a1a" stroke-width="0.15" text-anchor="middle">84</text>
<text x="415.50" y="253.00" font-size="6.6" fill="#1a1a1a" stroke="#1a1a1a" stroke-width="0.15" text-anchor="middle">79</text>
<text x="457.97" y="253.00" font-size="6.6" fill="#1a1a1a" stroke="#1a1a1a" stroke-width="0.15" text-anchor="middle">57</text>
<line x1="479.0" y1="250.14" x2="482.7" y2="250.14" stroke="#111" stroke-width="1.2"/>
<text x="0" y="252.29" font-size="6.6" fill="#1a1a1a" stroke="#1a1a1a" stroke-width="0.12" transform="translate(486.4,0) scale(1.04,1)">W493C</text>
<text x="373.03" y="261.08" font-size="6.6" fill="#1a1a1a" stroke="#1a1a1a" stroke-width="0.15" text-anchor="middle">94</text>
<text x="415.50" y="261.08" font-size="6.6" fill="#1a1a1a" stroke="#1a1a1a" stroke-width="0.15" text-anchor="middle">156</text>
<text x="457.97" y="261.08" font-size="6.6" fill="#1a1a1a" stroke="#1a1a1a" stroke-width="0.15" text-anchor="middle">87</text>
<line x1="479.0" y1="258.22" x2="482.7" y2="258.22" stroke="#111" stroke-width="1.2"/>
<text x="0" y="260.37" font-size="6.6" fill="#1a1a1a" stroke="#1a1a1a" stroke-width="0.12" transform="translate(486.4,0) scale(1.04,1)">W501S</text>
<text x="373.03" y="269.16" font-size="6.6" fill="#1a1a1a" stroke="#1a1a1a" stroke-width="0.15" text-anchor="middle">59</text>
<text x="415.50" y="269.16" font-size="6.6" fill="#1a1a1a" stroke="#1a1a1a" stroke-width="0.15" text-anchor="middle">196</text>
<text x="457.97" y="269.16" font-size="6.6" fill="#1a1a1a" stroke="#1a1a1a" stroke-width="0.15" text-anchor="middle">35</text>
<line x1="479.0" y1="266.30" x2="482.7" y2="266.30" stroke="#111" stroke-width="1.2"/>
<text x="0" y="268.45" font-size="6.6" fill="#1a1a1a" stroke="#1a1a1a" stroke-width="0.12" transform="translate(486.4,0) scale(1.04,1)">R513K</text>
<text x="373.03" y="277.24" font-size="6.6" fill="#1a1a1a" stroke="#1a1a1a" stroke-width="0.15" text-anchor="middle">224</text>
<text x="415.50" y="277.24" font-size="6.6" fill="#1a1a1a" stroke="#1a1a1a" stroke-width="0.15" text-anchor="middle">134</text>
<text x="457.97" y="277.24" font-size="6.6" fill="#1a1a1a" stroke="#1a1a1a" stroke-width="0.15" text-anchor="middle">97</text>
<line x1="479.0" y1="274.38" x2="482.7" y2="274.38" stroke="#111" stroke-width="1.2"/>
<text x="0" y="276.53" font-size="6.6" fill="#1a1a1a" stroke="#1a1a1a" stroke-width="0.12" transform="translate(486.4,0) scale(1.04,1)">I532T</text>
<text x="373.03" y="285.32" font-size="6.6" fill="#1a1a1a" stroke="#1a1a1a" stroke-width="0.15" text-anchor="middle">49</text>
<text x="415.50" y="285.32" font-size="6.6" fill="#1a1a1a" stroke="#1a1a1a" stroke-width="0.15" text-anchor="middle">43</text>
<text x="457.97" y="285.32" font-size="6.6" fill="#1a1a1a" stroke="#1a1a1a" stroke-width="0.15" text-anchor="middle">38</text>
<line x1="479.0" y1="282.46" x2="482.7" y2="282.46" stroke="#111" stroke-width="1.2"/>
<text x="0" y="284.61" font-size="6.6" fill="#1a1a1a" stroke="#1a1a1a" stroke-width="0.12" transform="translate(486.4,0) scale(1.04,1)">D534V</text>
<text x="373.03" y="293.40" font-size="6.6" fill="#1a1a1a" stroke="#1a1a1a" stroke-width="0.15" text-anchor="middle">61</text>
<text x="415.50" y="293.40" font-size="6.6" fill="#1a1a1a" stroke="#1a1a1a" stroke-width="0.15" text-anchor="middle">94</text>
<text x="457.97" y="293.40" font-size="6.6" fill="#1a1a1a" stroke="#1a1a1a" stroke-width="0.15" text-anchor="middle">79</text>
<line x1="479.0" y1="290.54" x2="482.7" y2="290.54" stroke="#111" stroke-width="1.2"/>
<text x="0" y="292.69" font-size="6.6" fill="#1a1a1a" stroke="#1a1a1a" stroke-width="0.12" transform="translate(486.4,0) scale(1.04,1)">G537A</text>
<text x="373.03" y="301.48" font-size="6.6" fill="#1a1a1a" stroke="#1a1a1a" stroke-width="0.15" text-anchor="middle">0</text>
<text x="415.50" y="301.48" font-size="6.6" fill="#1a1a1a" stroke="#1a1a1a" stroke-width="0.15" text-anchor="middle">0</text>
<text x="457.97" y="301.48" font-size="6.6" fill="#1a1a1a" stroke="#1a1a1a" stroke-width="0.15" text-anchor="middle">0</text>
<line x1="479.0" y1="298.62" x2="482.7" y2="298.62" stroke="#111" stroke-width="1.2"/>
<text x="0" y="300.77" font-size="6.6" fill="#1a1a1a" stroke="#1a1a1a" stroke-width="0.12" transform="translate(486.4,0) scale(1.04,1)">G537X</text>
<text x="373.03" y="309.56" font-size="6.6" fill="#1a1a1a" stroke="#1a1a1a" stroke-width="0.15" text-anchor="middle">0</text>
<text x="415.50" y="309.56" font-size="6.6" fill="#1a1a1a" stroke="#1a1a1a" stroke-width="0.15" text-anchor="middle">0</text>
<text x="457.97" y="309.56" font-size="6.6" fill="#1a1a1a" stroke="#1a1a1a" stroke-width="0.15" text-anchor="middle">0</text>
<line x1="479.0" y1="306.70" x2="482.7" y2="306.70" stroke="#111" stroke-width="1.2"/>
<text x="0" y="308.85" font-size="6.6" fill="#1a1a1a" stroke="#1a1a1a" stroke-width="0.12" transform="translate(486.4,0) scale(1.04,1)">I553fs</text>
<text x="373.03" y="317.64" font-size="6.6" fill="#1a1a1a" stroke="#1a1a1a" stroke-width="0.15" text-anchor="middle">19</text>
<text x="415.50" y="317.64" font-size="6.6" fill="#1a1a1a" stroke="#1a1a1a" stroke-width="0.15" text-anchor="middle">13</text>
<text x="457.97" y="317.64" font-size="6.6" fill="#1a1a1a" stroke="#1a1a1a" stroke-width="0.15" text-anchor="middle">28</text>
<line x1="479.0" y1="314.78" x2="482.7" y2="314.78" stroke="#111" stroke-width="1.2"/>
<text x="0" y="316.93" font-size="6.6" fill="#1a1a1a" stroke="#1a1a1a" stroke-width="0.12" transform="translate(486.4,0) scale(1.04,1)">G558R</text>
<text x="373.03" y="325.72" font-size="6.6" fill="#1a1a1a" stroke="#1a1a1a" stroke-width="0.15" text-anchor="middle">19</text>
<text x="415.50" y="325.72" font-size="6.6" fill="#1a1a1a" stroke="#1a1a1a" stroke-width="0.15" text-anchor="middle">9</text>
<text x="457.97" y="325.72" font-size="6.6" fill="#1a1a1a" stroke="#1a1a1a" stroke-width="0.15" text-anchor="middle">6</text>
<line x1="479.0" y1="322.86" x2="482.7" y2="322.86" stroke="#111" stroke-width="1.2"/>
<text x="0" y="325.01" font-size="6.6" fill="#1a1a1a" stroke="#1a1a1a" stroke-width="0.12" transform="translate(486.4,0) scale(1.04,1)">T591K</text>
<text x="373.03" y="333.80" font-size="6.6" fill="#1a1a1a" stroke="#1a1a1a" stroke-width="0.15" text-anchor="middle">50</text>
<text x="415.50" y="333.80" font-size="6.6" fill="#1a1a1a" stroke="#1a1a1a" stroke-width="0.15" text-anchor="middle">46</text>
<text x="457.97" y="333.80" font-size="6.6" fill="#1a1a1a" stroke="#1a1a1a" stroke-width="0.15" text-anchor="middle">5</text>
<line x1="479.0" y1="330.94" x2="482.7" y2="330.94" stroke="#111" stroke-width="1.2"/>
<text x="0" y="333.09" font-size="6.6" fill="#1a1a1a" stroke="#1a1a1a" stroke-width="0.12" transform="translate(486.4,0) scale(1.04,1)">R704X</text>
<text x="373.03" y="341.88" font-size="6.6" fill="#1a1a1a" stroke="#1a1a1a" stroke-width="0.15" text-anchor="middle">10</text>
<text x="415.50" y="341.88" font-size="6.6" fill="#1a1a1a" stroke="#1a1a1a" stroke-width="0.15" text-anchor="middle">36</text>
<text x="457.97" y="341.88" font-size="6.6" fill="#1a1a1a" stroke="#1a1a1a" stroke-width="0.15" text-anchor="middle">18</text>
<line x1="479.0" y1="339.02" x2="482.7" y2="339.02" stroke="#111" stroke-width="1.2"/>
<text x="0" y="341.17" font-size="6.6" fill="#1a1a1a" stroke="#1a1a1a" stroke-width="0.12" transform="translate(486.4,0) scale(1.04,1)">S741fs</text>
<rect x="351.6" y="44.1" width="127.40" height="298.96" fill="none" stroke="#111" stroke-width="1.4"/>
<defs><linearGradient id="cb" x1="0" x2="1" y1="0" y2="0">
<stop offset="0.0000" stop-color="#cc421b"/>
<stop offset="0.0333" stop-color="#d2551d"/>
<stop offset="0.0667" stop-color="#d96920"/>
<stop offset="0.1000" stop-color="#dd7822"/>
<stop offset="0.1333" stop-color="#e18925"/>
<stop offset="0.1667" stop-color="#e69b28"/>
<stop offset="0.2000" stop-color="#eab12b"/>
<stop offset="0.2333" stop-color="#efc72e"/>
<stop offset="0.2667" stop-color="#f2d731"/>
<stop offset="0.3000" stop-color="#f4e032"/>
<stop offset="0.3333" stop-color="#f6e934"/>
<stop offset="0.3667" stop-color="#eee635"/>
<stop offset="0.4000" stop-color="#e7e437"/>
<stop offset="0.4333" stop-color="#dfe138"/>
<stop offset="0.4667" stop-color="#d4dc3a"/>
<stop offset="0.5000" stop-color="#c6d53b"/>
<stop offset="0.5333" stop-color="#b8ce3c"/>
<stop offset="0.5667" stop-color="#afc93c"/>
<stop offset="0.6000" stop-color="#a7c63d"/>
<stop offset="0.6333" stop-color="#a0c23d"/>
<stop offset="0.6667" stop-color="#98be3e"/>
<stop offset="0.7000" stop-color="#93bc3f"/>
<stop offset="0.7333" stop-color="#8eb93f"/>
<stop offset="0.7667" stop-color="#88b640"/>
<stop offset="0.8000" stop-color="#83b440"/>
<stop offset="0.8333" stop-color="#7eb241"/>
<stop offset="0.8667" stop-color="#79af42"/>
<stop offset="0.9000" stop-color="#74ac42"/>
<stop offset="0.9333" stop-color="#6eaa43"/>
<stop offset="0.9667" stop-color="#69a843"/>
<stop offset="1.0000" stop-color="#64a544"/>
</linearGradient></defs>
<rect x="351.2" y="351.6" width="128.40" height="9.4" fill="url(#cb)" stroke="#111" stroke-width="0.9"/>
<rect x="351.7" y="352.1" width="2.4" height="8.4" fill="#6a9a3a"/>
<line x1="391.8" y1="351.6" x2="391.8" y2="353.6" stroke="#111" stroke-width="1"/>
<line x1="391.8" y1="359" x2="391.8" y2="361" stroke="#111" stroke-width="1"/>
<line x1="435.5" y1="351.6" x2="435.5" y2="353.6" stroke="#111" stroke-width="1"/>
<line x1="435.5" y1="359" x2="435.5" y2="361" stroke="#111" stroke-width="1"/>
<text x="391.8" y="372" font-size="7" fill="#333" text-anchor="middle">100</text>
<text x="435.5" y="372" font-size="7" fill="#333" text-anchor="middle">200</text>
<text x="479.3" y="372" font-size="7" fill="#333" text-anchor="middle">300</text>
</g>
<rect x="0.5" y="0.5" width="519" height="427" fill="none" stroke="#000" stroke-width="1"/>
<rect x="1.5" y="1.5" width="517" height="425" fill="none" stroke="#4a4a4a" stroke-width="1"/>
</svg>
</body></html>
